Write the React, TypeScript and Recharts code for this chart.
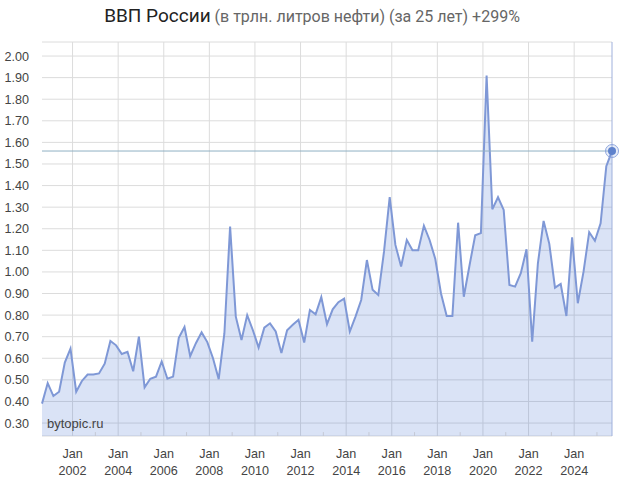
import { AreaChart, Area, CartesianGrid, XAxis, YAxis, ReferenceLine, ReferenceDot } from 'recharts'

const FIRST_QUARTER = 2000.66

// quarterly values
const gdp = [
    0.39, 0.485, 0.425, 0.445, 0.58, 0.645, 0.445, 0.495, 0.525, 0.525,
    0.53, 0.575, 0.68, 0.66, 0.62, 0.63, 0.54, 0.7, 0.465, 0.505,
    0.515, 0.585, 0.505, 0.515, 0.695, 0.745, 0.61, 0.67, 0.72, 0.675,
    0.6, 0.503, 0.716, 1.21, 0.793, 0.685, 0.8, 0.73, 0.65, 0.742,
    0.762, 0.724, 0.624, 0.73, 0.755, 0.778, 0.673, 0.824, 0.804, 0.883,
    0.758, 0.827, 0.86, 0.876, 0.724, 0.793, 0.87, 1.055, 0.917, 0.893,
    1.094, 1.346, 1.125, 1.025, 1.148, 1.1, 1.1, 1.214, 1.148, 1.06,
    0.9, 0.796, 0.796, 1.228, 0.885, 1.03, 1.17, 1.18, 1.91, 1.29,
    1.346, 1.287, 0.94, 0.932, 0.994, 1.105, 0.677, 1.04, 1.236, 1.13,
    0.927, 0.944, 0.796, 1.16, 0.855, 1.0, 1.184, 1.144, 1.225, 1.49,
    1.56,
]

const yTicks = [0.3, 0.4, 0.5, 0.6, 0.7, 0.8, 0.9, 1.0, 1.1, 1.2, 1.3, 1.4, 1.5, 1.6, 1.7, 1.8, 1.9, 2.0]
const yearTicks = [2002, 2004, 2006, 2008, 2010, 2012, 2014, 2016, 2018, 2020, 2022, 2024]
const minorYears = [2003, 2005, 2007, 2009, 2011, 2013, 2015, 2017, 2019, 2021, 2023, 2025]

const rows = gdp.map((v, i) => ({ t: FIRST_QUARTER + i * 0.25, v }))
const lastPoint = rows[rows.length - 1]

const Y_MIN = 0.24
const Y_MAX = 2.065
const FONT = '"Liberation Sans", Arial, sans-serif'

const YearTick = ({ x, y, payload }: any) => (
    <text x={x} textAnchor='middle' fontFamily={FONT} fontSize={12.6} fill='#444'>
        <tspan x={x} y={y + 14}>Jan</tspan>
        <tspan x={x} y={y + 31}>{payload.value}</tspan>
    </text>
)

export default function App() {
    return (
        <div style={{ position: 'absolute', left: 0, top: 0, width: 624, height: 478, background: '#fff' }}>
            <div
                style={{
                    position: 'absolute',
                    top: 4,
                    left: 0,
                    width: 624,
                    textAlign: 'center',
                    fontFamily: 'Roboto, sans-serif',
                    fontSize: 16,
                    color: '#666',
                    whiteSpace: 'nowrap',
                }}
            >
                <span style={{ fontSize: 19, color: '#222' }}>ВВП России</span> (в трлн. литров нефти) (за 25 лет) +299%
            </div>
            <AreaChart width={624} height={478} data={rows} margin={{ top: 42, right: 12, bottom: 0, left: 0 }}>
                <CartesianGrid stroke='#dcdcdc' strokeWidth={1} verticalValues={yearTicks} />
                <XAxis
                    type='number'
                    dataKey='t'
                    domain={[FIRST_QUARTER, lastPoint.t]}
                    ticks={yearTicks}
                    interval={0}
                    tick={YearTick}
                    tickLine={false}
                    axisLine={false}
                    height={42}
                />
                <YAxis
                    type='number'
                    domain={[Y_MIN, Y_MAX]}
                    ticks={yTicks}
                    interval={0}
                    tickFormatter={(v: number) => v.toFixed(2)}
                    tick={{ fontFamily: FONT, fontSize: 12.6, fill: '#444' }}
                    tickLine={false}
                    axisLine={false}
                    tickMargin={7}
                    width={42}
                />
                <Area
                    type='linear'
                    dataKey='v'
                    stroke='#7f98d6'
                    strokeWidth={2}
                    fill='#3366cc'
                    fillOpacity={0.18}
                    dot={false}
                    activeDot={false}
                    isAnimationActive={false}
                />
                {minorYears.map((yr) => (
                    <ReferenceLine
                        key={yr}
                        segment={[{ x: yr, y: Y_MIN }, { x: yr, y: Y_MIN + 0.018 }]}
                        stroke='#c4c8d4'
                    />
                ))}
                <ReferenceLine y={lastPoint.v} stroke='#8fb0c4' />
                <ReferenceLine x={lastPoint.t} stroke='#9fb0dc' />
                <ReferenceDot x={lastPoint.t} y={lastPoint.v} r={6.5} fill='#3366cc' fillOpacity={0.1} stroke='#8ea6de' strokeWidth={1} />
                <ReferenceDot x={lastPoint.t} y={lastPoint.v} r={4} fill='#5f82cc' stroke='none' />
            </AreaChart>
            <div
                style={{
                    position: 'absolute',
                    left: 47,
                    top: 416,
                    fontFamily: FONT,
                    fontSize: 13,
                    color: '#444',
                }}
            >
                bytopic.ru
            </div>
        </div>
    )
}
